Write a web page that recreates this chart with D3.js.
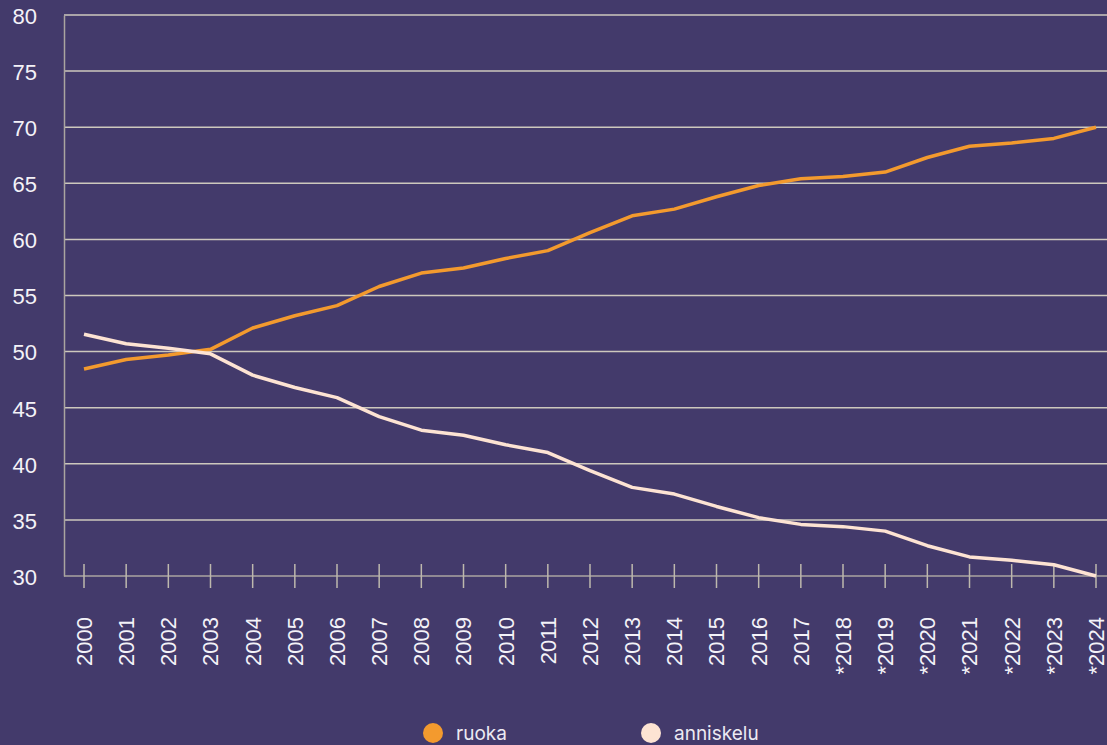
<!DOCTYPE html>
<html>
<head>
<meta charset="utf-8">
<script src="https://cdn.jsdelivr.net/npm/d3@7"></script>
<style>
  html, body { margin: 0; padding: 0; background: #433a6b; }
  svg { display: block; }
</style>
</head>
<body>
<div id="chart"></div>
<script>
// years (* = preliminary)
let years = ["2000","2001","2002","2003","2004","2005","2006","2007","2008","2009","2010","2011","2012",
  "2013","2014","2015","2016","2017","*2018","*2019","*2020","*2021","*2022","*2023","*2024"];

let ruoka = [48.45, 49.3, 49.7, 50.2, 52.1, 53.2, 54.1, 55.8, 57.0, 57.45, 58.3, 59.0, 60.6,
  62.1, 62.7, 63.8, 64.8, 65.4, 65.6, 66.0, 67.3, 68.3, 68.6, 69.0, 70.0];

let anniskelu = [51.55, 50.7, 50.3, 49.8, 47.9, 46.8, 45.9, 44.2, 43.0, 42.55, 41.7, 41.0, 39.4,
  37.9, 37.3, 36.2, 35.2, 34.6, 34.4, 34.0, 32.7, 31.7, 31.4, 31.0, 30.0];

let yTicks = [30, 35, 40, 45, 50, 55, 60, 65, 70, 75, 80];

let seriesNames = ["ruoka", "anniskelu"];
let seriesColors = ["#f39a2e", "#fde3d3"];

let W = 1107, H = 745;
let axisX = 64, plotTop = 15, plotBottom = 576;

let svg = d3.select("#chart").append("svg")
    .attr("width", W)
    .attr("height", H);

svg.append("rect")
    .attr("width", W).attr("height", H)
    .attr("fill", "#433a6b");

let x = d3.scaleLinear()
    .domain([0, years.length - 1])
    .range([84, 1096]);

let y = d3.scaleLinear()
    .domain([30, 80])
    .range([plotBottom, plotTop]);

// gridlines
svg.selectAll(".grid")
  .data(yTicks.filter(d => d > 30))
  .enter().append("line")
    .attr("class", "grid")
    .attr("x1", axisX).attr("x2", W)
    .attr("y1", d => y(d)).attr("y2", d => y(d))
    .attr("stroke", "#cdc8bd")
    .attr("stroke-width", 1.5);

// y axis
let yAxis = d3.axisLeft(y).tickValues(yTicks).tickSize(0).tickPadding(27);
let gy = svg.append("g")
    .attr("transform", `translate(${axisX},0)`)
    .call(yAxis);
gy.select(".domain").attr("stroke", "#aaa5a0").attr("stroke-width", 1.5);
gy.selectAll("text")
    .attr("fill", "#f4f2f8")
    .attr("dy", "0.38em")
    .style("font-family", "Liberation Sans, Arial, sans-serif")
    .style("font-size", "22px");

// x axis line
svg.append("line")
    .attr("x1", axisX).attr("x2", W)
    .attr("y1", plotBottom).attr("y2", plotBottom)
    .attr("stroke", "#aaa5a0")
    .attr("stroke-width", 1.5);

// x ticks (cross the axis)
svg.selectAll(".xtick")
  .data(years)
  .enter().append("line")
    .attr("class", "xtick")
    .attr("x1", (d, i) => x(i)).attr("x2", (d, i) => x(i))
    .attr("y1", plotBottom - 12).attr("y2", plotBottom + 12)
    .attr("stroke", "#bdb8ad")
    .attr("stroke-width", 1.5);

svg.selectAll(".xlabel")
  .data(years)
  .enter().append("text")
    .attr("class", "xlabel")
    .attr("transform", (d, i) => `translate(${x(i)},617) rotate(-90)`)
    .attr("dy", "0.36em")
    .attr("text-anchor", "end")
    .attr("fill", "#f4f2f8")
    .style("font-family", "Liberation Sans, Arial, sans-serif")
    .style("font-size", "22px")
    .text(d => d);

// lines
let line = d3.line()
    .x((d, i) => x(i))
    .y(d => y(d));

[ruoka, anniskelu].forEach((vals, k) => {
  svg.append("path")
      .datum(vals)
      .attr("d", line)
      .attr("fill", "none")
      .attr("stroke", seriesColors[k])
      .attr("stroke-width", 3.5)
      .attr("stroke-linejoin", "round");
});

// legend
let legendX = [433, 651];
let legend = svg.selectAll(".legend")
  .data(seriesNames)
  .enter().append("g")
    .attr("class", "legend")
    .attr("transform", (d, i) => `translate(${legendX[i]},733)`);

legend.append("circle")
    .attr("r", 10)
    .attr("fill", (d, i) => seriesColors[i]);

legend.append("text")
    .attr("x", 23)
    .attr("dy", "0.35em")
    .attr("fill", "#eceaf2")
    .style("font-family", "Inter, sans-serif")
    .style("font-size", "19px")
    .text(d => d);
</script>
</body>
</html>
